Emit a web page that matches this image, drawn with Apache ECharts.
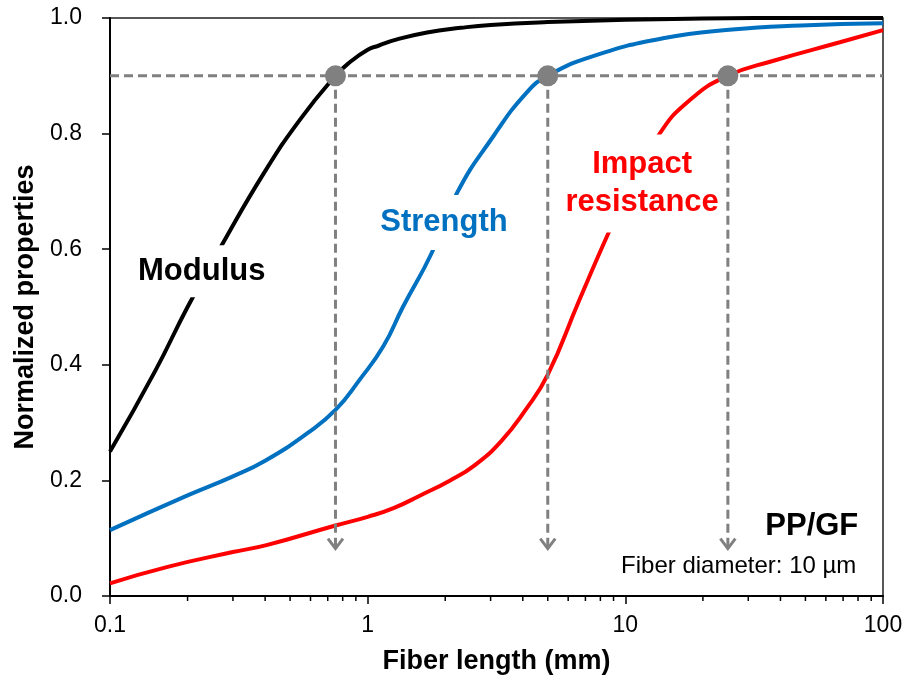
<!DOCTYPE html>
<html>
<head>
<meta charset="utf-8">
<script src="https://cdn.jsdelivr.net/npm/echarts@6/dist/echarts.min.js"></script>
<style>
  html, body { margin: 0; padding: 0; background: #ffffff; }
  #chart { width: 908px; height: 682px; }
</style>
</head>
<body>
<div id="chart"></div>
<script>
const FONT = '"Liberation Sans", Arial, Helvetica, sans-serif';

// Fiber length (mm) and normalized property along each curve
const modulusLength = [0.1, 0.15, 0.2, 0.27, 0.4, 0.55, 0.75, 0.85, 1.0, 1.1, 1.3, 1.7, 2.3, 3, 5, 10, 20, 50, 100];
const modulusValue  = [0.25, 0.39, 0.50, 0.605, 0.735, 0.826, 0.90, 0.923, 0.945, 0.952, 0.963, 0.975, 0.983, 0.988, 0.993, 0.997, 0.999, 1.0, 1.0];

const strengthLength = [0.1, 0.2, 0.3, 0.4, 0.58, 0.75, 0.93, 1.15, 1.37, 1.77, 2.22, 3.07, 4.14, 5, 7.5, 14, 26, 48, 100];
const strengthValue  = [0.114, 0.174, 0.207, 0.234, 0.281, 0.322, 0.374, 0.432, 0.50, 0.593, 0.697, 0.795, 0.871, 0.90, 0.934, 0.965, 0.980, 0.987, 0.991];

const impactLength = [0.1, 0.166, 0.3, 0.405, 0.75, 1.0, 1.26, 1.6, 2.09, 2.6, 3.3, 4.1, 5, 6.6, 8.6, 10, 13.5, 17.9, 25, 37.6, 68, 100];
const impactValue  = [0.022, 0.05, 0.076, 0.088, 0.122, 0.137, 0.152, 0.174, 0.20, 0.226, 0.268, 0.322, 0.383, 0.51, 0.628, 0.69, 0.798, 0.859, 0.90, 0.926, 0.958, 0.979];

// 90 % retention level and the fiber lengths where each property reaches it
const thresholdLevel = 0.9;
const thresholdLength = [0.75, 5, 25];
const arrowFoot = 0.082;

// Axis ranges and tick values
const xRange = [0.1, 100];
const yRange = [0, 1];
const yStep = 0.2;
const minorTickValues = [0.2, 0.3, 0.4, 0.5, 0.6, 0.7, 0.8, 0.9,
                         2, 3, 4, 5, 6, 7, 8, 9,
                         20, 30, 40, 50, 60, 70, 80, 90];

// Text annotations and where they sit (data coordinates)
const annotationText = ['Modulus', 'Strength', 'Impact\nresistance', 'PP/GF', 'Fiber diameter: 10 µm'];
const annotationAnchor = [[0.227, 0.562], [1.978, 0.646], [11.62, 0.7135], [80.2, 0.121], [78.8, 0.0515]];

const BLACK = '#000000';
const BLUE = '#0070C0';
const RED = '#FF0000';
const GRAY = '#808080';
const DASH = [9, 5];

const zip = (xs, ys) => xs.map((x, i) => [x, ys[i]]);

function curve(name, xs, ys, color) {
  return {
    name: name,
    type: 'line',
    data: zip(xs, ys),
    smooth: 0.5,
    showSymbol: false,
    symbol: 'none',
    lineStyle: { color: color, width: 4 },
    z: 3,
    silent: true
  };
}

const annotationStyles = [
  { color: BLACK, fontSize: 31, fontWeight: 'bold', backgroundColor: '#fff', padding: [14, 4, 7, 4] },
  { color: BLUE, fontSize: 31, fontWeight: 'bold', backgroundColor: '#fff', padding: [10, 4, 14, 4] },
  { color: RED, fontSize: 31, fontWeight: 'bold', backgroundColor: '#fff', padding: [10, 2, 12, 2], lineHeight: 38, align: 'center' },
  { color: BLACK, fontSize: 31, fontWeight: 'bold', align: 'right' },
  { color: BLACK, fontSize: 24, fontWeight: 'normal', align: 'right' }
];

const option = {
  animation: false,
  backgroundColor: '#ffffff',
  grid: {
    left: 110, right: 25, top: 18, bottom: 86,
    show: true,
    borderColor: '#222222',
    borderWidth: 1.5,
    backgroundColor: 'transparent'
  },
  xAxis: {
    type: 'log',
    logBase: 10,
    min: xRange[0],
    max: xRange[1],
    name: 'Fiber length (mm)',
    nameLocation: 'middle',
    nameGap: 52,
    nameTextStyle: { fontFamily: FONT, fontSize: 27, fontWeight: 'bold', color: BLACK },
    axisLine: { show: true, lineStyle: { color: BLACK, width: 2 } },
    axisTick: { show: true, inside: false, length: 8, lineStyle: { color: BLACK, width: 1.5 } },
    minorTick: { show: false },
    splitLine: { show: false },
    axisLabel: { fontFamily: FONT, fontSize: 23, color: BLACK, margin: 18 }
  },
  yAxis: {
    type: 'value',
    min: yRange[0],
    max: yRange[1],
    interval: yStep,
    name: 'Normalized properties',
    nameLocation: 'middle',
    nameGap: 70,
    nameTextStyle: { fontFamily: FONT, fontSize: 27, fontWeight: 'bold', color: BLACK },
    axisLine: { show: true, lineStyle: { color: BLACK, width: 2 } },
    axisTick: { show: true, inside: false, length: 8, lineStyle: { color: BLACK, width: 1.5 } },
    splitLine: { show: false },
    axisLabel: {
      fontFamily: FONT, fontSize: 23, color: BLACK, margin: 28,
      formatter: v => v.toFixed(1)
    }
  },
  series: [
    curve('Modulus', modulusLength, modulusValue, BLACK),
    curve('Strength', strengthLength, strengthValue, BLUE),
    curve('Impact resistance', impactLength, impactValue, RED),
    {
      // dashed 90 % level across the whole plot
      name: 'level',
      type: 'custom',
      clip: false,
      silent: true,
      z: 4,
      data: [[xRange[0], xRange[1], thresholdLevel]],
      renderItem: function (params, api) {
        const a = api.coord([api.value(0), api.value(2)]);
        const b = api.coord([api.value(1), api.value(2)]);
        return {
          type: 'line',
          shape: { x1: a[0], y1: a[1], x2: b[0], y2: b[1] },
          style: { stroke: GRAY, lineWidth: 3, lineDash: DASH, fill: null }
        };
      }
    },
    {
      // dashed drop arrows from each 90 % point
      name: 'drops',
      type: 'custom',
      clip: false,
      silent: true,
      z: 4,
      data: thresholdLength.map(x => [x, thresholdLevel, arrowFoot]),
      renderItem: function (params, api) {
        const top = api.coord([api.value(0), api.value(1)]);
        const tip = api.coord([api.value(0), api.value(2)]);
        return {
          type: 'group',
          children: [
            {
              type: 'line',
              shape: { x1: top[0], y1: top[1], x2: tip[0], y2: tip[1] - 1 },
              style: { stroke: GRAY, lineWidth: 3, lineDash: DASH, fill: null }
            },
            {
              type: 'polyline',
              shape: { points: [[tip[0] - 7.5, tip[1] - 10], [tip[0], tip[1]], [tip[0] + 7.5, tip[1] - 10]] },
              style: { stroke: GRAY, lineWidth: 3, fill: null, lineJoin: 'miter' }
            }
          ]
        };
      }
    },
    {
      name: 'threshold points',
      type: 'scatter',
      data: thresholdLength.map(x => [x, thresholdLevel]),
      symbol: 'circle',
      symbolSize: 21,
      itemStyle: { color: GRAY, opacity: 1 },
      z: 6,
      silent: true
    },
    {
      name: 'annotations',
      type: 'scatter',
      symbolSize: 0,
      z: 5,
      silent: true,
      itemStyle: { opacity: 1 },
      data: annotationText.map((t, i) => ({
        value: annotationAnchor[i],
        label: Object.assign({
          show: true,
          position: 'inside',
          formatter: t,
          fontFamily: FONT,
          verticalAlign: 'middle',
          opacity: 1
        }, annotationStyles[i])
      }))
    },
    {
      // log-decade minor ticks under the x axis
      name: 'minor ticks',
      type: 'custom',
      clip: false,
      silent: true,
      z: 4,
      data: minorTickValues.map(v => [v, yRange[0]]),
      renderItem: function (params, api) {
        const p = api.coord([api.value(0), api.value(1)]);
        return {
          type: 'line',
          shape: { x1: p[0], y1: p[1], x2: p[0], y2: p[1] + 5 },
          style: { stroke: BLACK, lineWidth: 1.5 }
        };
      }
    }
  ]
};

const chart = echarts.init(document.getElementById('chart'), null, { renderer: 'canvas' });
chart.setOption(option);
</script>
</body>
</html>
